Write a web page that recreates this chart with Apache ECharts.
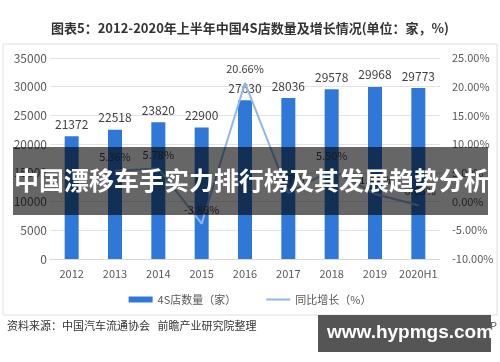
<!DOCTYPE html>
<html><head><meta charset="utf-8">
<script src="https://cdn.jsdelivr.net/npm/echarts@6/dist/echarts.min.js"></script>
<style>html,body{margin:0;padding:0;background:#fff}#c{width:500px;height:362px}</style>
</head><body><div id="c"></div>
<script>
var categories = ['2012','2013','2014','2015','2016','2017','2018','2019','2020H1'];
var storeCounts = [21372, 22518, 23820, 22900, 27630, 28036, 29578, 29968, 29773];
var growthRates = [null, 5.36, 5.78, -3.86, 20.66, 1.47, 5.50, 1.32, -0.65];
var leftTicks = [0, 35000, 5000];
var rightTicks = [-10, 25, 5];

var FONT = '"Noto Sans CJK SC", "Noto Sans", sans-serif';
var chart = echarts.init(document.getElementById('c'));
chart.setOption({
  animation: false,
  backgroundColor: '#ffffff',
  textStyle: { fontFamily: FONT },
  title: {
    text: '图表5：2012-2020年上半年中国4S店数量及增长情况(单位：家，%)',
    left: 'center', top: 17,
    textStyle: { fontSize: 13, fontWeight: 'bold', color: '#333', fontFamily: FONT }
  },
  grid: { left: 50, right: 60, top: 58, bottom: 103 },
  legend: {
    bottom: 52, left: 'center', itemGap: 30, itemWidth: 24, itemHeight: 6,
    textStyle: { fontSize: 11, color: '#595959', fontFamily: FONT },
    data: [
      { name: '4S店数量（家）', icon: 'rect' },
      { name: '同比增长（%）', icon: 'path://M0,0 L24,0 L24,2 L0,2 Z' }
    ]
  },
  xAxis: {
    type: 'category', data: categories,
    axisLine: { show: true, lineStyle: { color: '#d9d9d9' } },
    axisTick: { show: false },
    axisLabel: { interval: 0, fontSize: 11, color: '#595959', margin: 9, fontFamily: FONT }
  },
  yAxis: [{
    type: 'value', min: leftTicks[0], max: leftTicks[1], interval: leftTicks[2],
    axisLabel: { fontSize: 12, color: '#595959', margin: 3, fontFamily: FONT,
      formatter: function (v) { return String(v); } },
    splitLine: { lineStyle: { color: '#e3e3e3' } },
    axisLine: { show: false }, axisTick: { show: false }
  }, {
    type: 'value', min: rightTicks[0], max: rightTicks[1], interval: rightTicks[2],
    axisLabel: { fontSize: 11, color: '#595959', margin: 12, fontFamily: FONT,
      formatter: function (v) { return v.toFixed(2) + '%'; } },
    splitLine: { show: false }, axisLine: { show: false }, axisTick: { show: false }
  }],
  series: [{
    name: '4S店数量（家）', type: 'bar', data: storeCounts, barWidth: 14,
    itemStyle: { color: '#2f78d8' },
    label: { show: true, position: 'top', distance: 6, fontSize: 12, color: '#404040', fontFamily: FONT }
  }, {
    name: '同比增长（%）', type: 'line', yAxisIndex: 1, data: growthRates,
    showSymbol: true, symbol: 'circle', symbolSize: 1,
    lineStyle: { color: '#8fb8e8', width: 2 }, itemStyle: { color: '#8fb8e8' },
    label: { show: true, position: 'top', distance: 8, fontSize: 11, color: '#404040', fontFamily: FONT,
      formatter: function (p) { return p.value == null ? '' : p.value.toFixed(2) + '%'; } },
    labelLayout: { hideOverlap: false },
    z: 3
  }],
  graphic: [
    { type: 'rect', shape: { x: 3, y: 44, width: 494, height: 271 }, style: { fill: 'none', stroke: '#e0e0e0', lineWidth: 1 }, z: -1 },
    { type: 'text', left: 7, top: 320, style: { text: '资料来源：中国汽车流通协会   前瞻产业研究院整理', fill: '#333', font: '11px "Noto Sans CJK SC"' } },
    { type: 'text', left: 400, top: 320, style: { text: '@前瞻经济学人APP', fill: '#555', font: '11px "Noto Sans CJK SC"' } },
    { type: 'rect', shape: { x: 13, y: 147, width: 475, height: 68 }, style: { fill: 'rgba(0,0,0,0.6)' }, z: 100 },
    { type: 'text', left: 14, top: 168, z: 101, style: { text: '中国漂移车手实力排行榜及其发展趋势分析', fill: '#ffffff', font: 'bold 25px "Noto Sans CJK SC"' } },
    { type: 'rect', shape: { x: 318, y: 315, width: 173, height: 37 }, style: { fill: '#555555' }, z: 100 },
    { type: 'text', left: 327, top: 323, z: 101, style: { text: 'www.hypmgs.com', fill: '#ffffff', font: 'bold 19px "Liberation Sans"' } }
  ]
});
</script></body></html>
